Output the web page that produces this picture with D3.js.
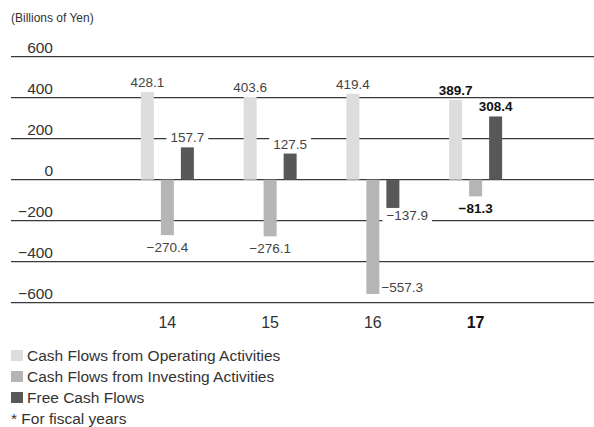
<!DOCTYPE html>
<html><head><meta charset="utf-8">
<script src="https://cdn.jsdelivr.net/npm/d3@7/dist/d3.min.js"></script>
<style>body{margin:0;background:#fff}svg{display:block}text{font-family:"Liberation Sans",Arial,sans-serif}</style>
</head><body>
<script>
const categories = ["14", "15", "16", "17"];
const seriesNames = ["Cash Flows from Operating Activities", "Cash Flows from Investing Activities", "Free Cash Flows"];
const operating = [428.1, 403.6, 419.4, 389.7];
const investing = [-270.4, -276.1, -557.3, -81.3];
const freeCF = [157.7, 127.5, -137.9, 308.4];
const yTicks = [600, 400, 200, 0, -200, -400, -600];
const unitLabel = "(Billions of Yen)";
const footnote = "* For fiscal years";
const highlight = "17";

const W = 594, H = 427;
const colors = ["#dcdddd", "#b5b5b6", "#595757"];
const svg = d3.select("body").append("svg").attr("width", W).attr("height", H);

const y = d3.scaleLinear().domain([-600, 600]).range([302.7, 56.7]);
const x = d3.scaleBand().domain(categories).range([116, 527]);
const sub = d3.scaleBand().domain([0, 1, 2]).range([-30, 30]).paddingInner(0.35).paddingOuter(0.175);
const fmt = v => (v < 0 ? "\u2212" + Math.abs(v).toFixed(1) : v.toFixed(1));

svg.append("text").attr("x", 11).attr("y", 22).attr("font-size", 12).attr("fill", "#333").text(unitLabel);

// gridlines + tick labels
const g = svg.append("g");
g.selectAll("line").data(yTicks).join("line")
  .attr("x1", 11).attr("x2", 594)
  .attr("y1", d => y(d)).attr("y2", d => y(d))
  .attr("stroke", "#3a3a3a").attr("stroke-width", 1.3);
g.selectAll("text").data(yTicks).join("text")
  .attr("x", 53).attr("y", d => y(d) - 4)
  .attr("text-anchor", "end").attr("font-size", 15.5).attr("fill", "#333")
  .text(d => d < 0 ? "\u2212" + Math.abs(d) : d);

const series = [operating, investing, freeCF];
const data = [];
series.forEach((arr, si) => arr.forEach((v, ci) => data.push({si, ci, v, cat: categories[ci]})));

const bx = d => x(d.cat) + x.bandwidth() / 2 + sub(d.si);
const bw = sub.bandwidth();

svg.append("g").selectAll("rect").data(data).join("rect")
  .attr("x", bx).attr("width", bw)
  .attr("y", d => y(Math.max(0, d.v)))
  .attr("height", d => Math.abs(y(d.v) - y(0)))
  .attr("fill", d => colors[d.si]);

// value labels
const lg = svg.append("g");
data.forEach(d => {
  const bold = d.cat === highlight;
  let tx = bx(d) + bw / 2, ty, anchor = "middle", bg = false;
  if (d.v >= 0) {
    ty = y(d.v) - 5;
    bg = d.si === 2;
  } else {
    if (d.si === 1 && y(d.v) > y(-500)) { tx = bx(d) + bw + 2; ty = y(d.v) - 2; anchor = "start"; }
    else if (d.si === 2) { tx = bx(d); ty = y(d.v) + 12; anchor = "start"; bg = true; }
    else { ty = y(d.v) + 17; }
  }
  const t = lg.append("text").attr("x", tx).attr("y", ty).attr("text-anchor", anchor)
    .attr("font-size", 13.5).attr("font-weight", bold ? "bold" : "normal")
    .attr("fill", bold ? "#111" : "#444").text(fmt(d.v));
  if (bg) {
    const b = t.node().getBBox();
    lg.insert("rect", () => t.node()).attr("x", b.x - 4).attr("y", b.y).attr("width", b.width + 8).attr("height", b.height).attr("fill", "#fff");
  }
});

// category labels
svg.append("g").selectAll("text").data(categories).join("text")
  .attr("x", d => x(d) + x.bandwidth() / 2).attr("y", 328)
  .attr("text-anchor", "middle").attr("font-size", 16)
  .attr("font-weight", d => d === highlight ? "bold" : "normal")
  .attr("fill", d => d === highlight ? "#111" : "#333").text(d => d);

// legend
const leg = svg.append("g");
seriesNames.forEach((n, i) => {
  const yy = 350 + i * 21;
  leg.append("rect").attr("x", 11).attr("y", yy).attr("width", 12).attr("height", 11).attr("fill", colors[i]);
  leg.append("text").attr("x", 27).attr("y", yy + 11).attr("font-size", 15.5).attr("fill", "#333").text(n);
});
leg.append("text").attr("x", 11).attr("y", 424).attr("font-size", 15.5).attr("fill", "#333").text(footnote);
</script>
</body></html>
